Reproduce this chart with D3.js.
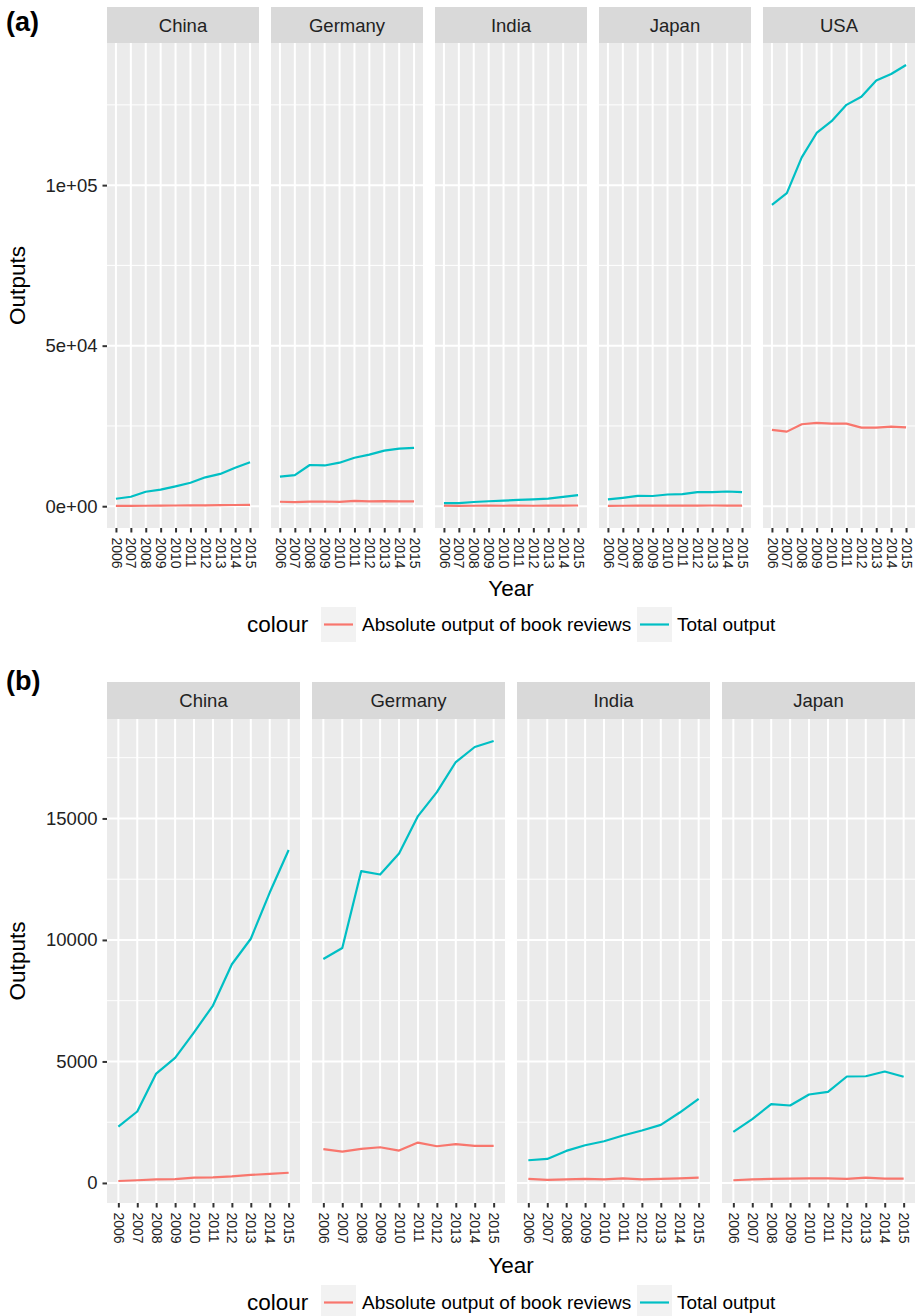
<!DOCTYPE html>
<html>
<head>
<meta charset="utf-8">
<script src="https://cdn.jsdelivr.net/npm/d3@7"></script>
<style>
  html, body { margin: 0; padding: 0; background: #fff; }
  svg { display: block; font-family: "Liberation Sans", Arial, Helvetica, sans-serif; }
</style>
</head>
<body>
<svg id="chart" width="918" height="1316"></svg>
<script>
// ---- data -------------------------------------------------------------
const years = ["2006","2007","2008","2009","2010","2011","2012","2013","2014","2015"];
const countriesA = ["China","Germany","India","Japan","USA"];
const countriesB = ["China","Germany","India","Japan"];

// total output per country and year
const totalChina   = [2320, 2940, 4500, 5150, 6200, 7300, 9000, 10050, 11950, 13700];
const totalGermany = [9218, 9671, 12830, 12692, 13557, 15096, 16085, 17322, 17940, 18187];
const totalIndia   = [935, 989, 1319, 1552, 1717, 1951, 2157, 2390, 2898, 3460];
const totalJapan   = [2102, 2625, 3243, 3187, 3640, 3750, 4381, 4390, 4587, 4368];
const totalUSA     = [93844, 97500, 108650, 116250, 119900, 125000, 127500, 132600, 134600, 137400];

// absolute output of book reviews per country and year
const reviewsChina   = [80, 110, 150, 160, 220, 230, 270, 330, 370, 420];
const reviewsGermany = [1388, 1291, 1400, 1470, 1332, 1662, 1511, 1594, 1525, 1525];
const reviewsIndia   = [165, 124, 150, 165, 150, 192, 150, 165, 192, 220];
const reviewsJapan   = [110, 150, 165, 178, 192, 192, 165, 220, 178, 178];
const reviewsUSA     = [23750, 23230, 25520, 25940, 25730, 25730, 24480, 24480, 24790, 24580];

const seriesNames = ["Absolute output of book reviews", "Total output"];
const seriesColors = ["#F8766D", "#00BFC4"];

// y-axis ticks for each block
const ticksA = [0, 50000, 100000];
const tickLabelsA = ["0e+00", "5e+04", "1e+05"];
const ticksB = [0, 5000, 10000, 15000];
const tickLabelsB = ["0", "5000", "10000", "15000"];

const totals = { China: totalChina, Germany: totalGermany, India: totalIndia, Japan: totalJapan, USA: totalUSA };
const reviews = { China: reviewsChina, Germany: reviewsGermany, India: reviewsIndia, Japan: reviewsJapan, USA: reviewsUSA };

// ---- drawing ----------------------------------------------------------
const svg = d3.select("#chart");
const textCol = "#222222";
const tickCol = "#333333";

function facetBlock(opt) {
  const g = svg.append("g");
  const n = opt.countries.length;
  const gap = 12;
  const pw = (opt.right - opt.left - gap * (n - 1)) / n;

  // shared y scale with 5% expansion on both ends
  const all = [];
  opt.countries.forEach(c => { all.push(...totals[c], ...reviews[c]); });
  const [lo, hi] = d3.extent(all);
  const pad = (hi - lo) * 0.05;
  const y = d3.scaleLinear().domain([lo - pad, hi + pad]).range([opt.bottom, opt.stripBottom]);

  const minor = [];
  for (let i = 0; i < opt.ticks.length; i++) {
    const step = opt.ticks[1] - opt.ticks[0];
    const m = opt.ticks[i] + step / 2;
    if (y(m) > opt.stripBottom) minor.push(m);
  }

  opt.countries.forEach((c, i) => {
    const x0 = opt.left + i * (pw + gap);
    const x = d3.scalePoint().domain(years).range([x0, x0 + pw]).padding(0.6);
    const p = g.append("g");

    // strip
    p.append("rect").attr("x", x0).attr("y", opt.stripTop)
      .attr("width", pw).attr("height", opt.stripBottom - opt.stripTop).attr("fill", "#D9D9D9");
    p.append("text").attr("x", x0 + pw / 2).attr("y", (opt.stripTop + opt.stripBottom) / 2)
      .attr("text-anchor", "middle").attr("dominant-baseline", "central")
      .attr("font-size", 18.5).attr("fill", textCol).text(c);

    // panel background
    p.append("rect").attr("x", x0).attr("y", opt.stripBottom)
      .attr("width", pw).attr("height", opt.bottom - opt.stripBottom).attr("fill", "#EBEBEB");

    // minor horizontal gridlines
    p.selectAll("line.minor").data(minor).join("line")
      .attr("x1", x0).attr("x2", x0 + pw)
      .attr("y1", d => y(d)).attr("y2", d => y(d))
      .attr("stroke", "#fff").attr("stroke-width", 1);
    // major horizontal gridlines
    p.selectAll("line.majy").data(opt.ticks).join("line")
      .attr("x1", x0).attr("x2", x0 + pw)
      .attr("y1", d => y(d)).attr("y2", d => y(d))
      .attr("stroke", "#fff").attr("stroke-width", 2);
    // vertical gridlines
    p.selectAll("line.majx").data(years).join("line")
      .attr("x1", d => x(d)).attr("x2", d => x(d))
      .attr("y1", opt.stripBottom).attr("y2", opt.bottom)
      .attr("stroke", "#fff").attr("stroke-width", 2);

    // series lines
    const line = d3.line().x((d, k) => x(years[k])).y(d => y(d));
    [reviews[c], totals[c]].forEach((vals, s) => {
      p.append("path").datum(vals).attr("d", line)
        .attr("fill", "none").attr("stroke", seriesColors[s])
        .attr("stroke-width", 2.2).attr("stroke-linejoin", "round");
    });

    // x axis
    const xa = p.append("g").attr("transform", `translate(0,${opt.bottom})`)
      .call(d3.axisBottom(x).tickSize(4.5).tickPadding(5));
    xa.select(".domain").remove();
    xa.selectAll(".tick line").attr("stroke", tickCol).attr("stroke-width", 2);
    xa.selectAll(".tick text")
      .attr("transform", "rotate(90)")
      .attr("x", 9.5).attr("y", 0).attr("dy", "0.35em")
      .attr("text-anchor", "start")
      .attr("font-family", "Liberation Sans, Arial, sans-serif")
      .attr("font-size", 14).attr("fill", textCol);
  });

  // y axis on the leftmost panel
  const ya = g.append("g").attr("transform", `translate(${opt.left},0)`)
    .call(d3.axisLeft(y).tickValues(opt.ticks).tickFormat((d, i) => opt.tickLabels[i]).tickSize(4.5).tickPadding(5));
  ya.select(".domain").remove();
  ya.selectAll(".tick line").attr("stroke", tickCol).attr("stroke-width", 2);
  ya.selectAll(".tick text").attr("font-family", "Liberation Sans, Arial, sans-serif")
    .attr("font-size", 18.5).attr("fill", textCol);

  // axis titles
  g.append("text").attr("x", (opt.left + opt.right) / 2).attr("y", opt.yearY)
    .attr("text-anchor", "middle").attr("dominant-baseline", "central")
    .attr("font-size", 22.5).attr("fill", "#000").text("Year");
  g.append("text")
    .attr("transform", `translate(17,${(opt.stripBottom + opt.bottom) / 2}) rotate(-90)`)
    .attr("text-anchor", "middle").attr("dominant-baseline", "central")
    .attr("font-size", 22.5).attr("fill", "#000").text("Outputs");

  // block tag
  g.append("text").attr("x", 6).attr("y", opt.tagY)
    .attr("font-size", 27).attr("font-weight", "bold").attr("fill", "#000").text(opt.tag);

  // legend
  const ly = opt.legendY;
  g.append("text").attr("x", 247).attr("y", ly).attr("dominant-baseline", "central")
    .attr("font-size", 22.5).attr("fill", "#000").text("colour");
  const keyX = [321, 637];
  const labX = [362, 677];
  seriesNames.forEach((name, s) => {
    g.append("rect").attr("x", keyX[s]).attr("y", ly - 17.5).attr("width", 35).attr("height", 35)
      .attr("fill", "#F2F2F2");
    g.append("line").attr("x1", keyX[s] + 3).attr("x2", keyX[s] + 32)
      .attr("y1", ly).attr("y2", ly)
      .attr("stroke", seriesColors[s]).attr("stroke-width", 2.2);
    g.append("text").attr("x", labX[s]).attr("y", ly).attr("dominant-baseline", "central")
      .attr("font-size", 19).attr("fill", "#000").text(name);
  });
}

facetBlock({
  tag: "(a)", tagY: 31,
  countries: countriesA,
  left: 107, right: 915,
  stripTop: 7, stripBottom: 43, bottom: 528,
  ticks: ticksA, tickLabels: tickLabelsA,
  yearY: 588, legendY: 624.5
});

facetBlock({
  tag: "(b)", tagY: 690,
  countries: countriesB,
  left: 107, right: 915,
  stripTop: 682, stripBottom: 719, bottom: 1203,
  ticks: ticksB, tickLabels: tickLabelsB,
  yearY: 1265, legendY: 1302.5
});
</script>
</body>
</html>
